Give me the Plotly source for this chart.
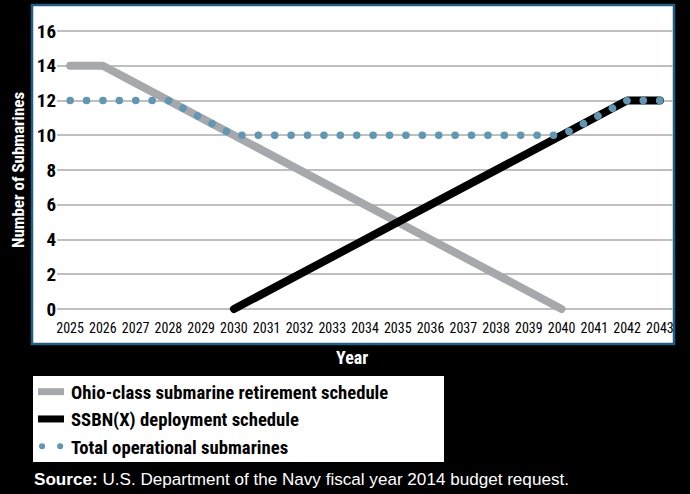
import plotly.graph_objects as go

years = list(range(2025, 2044))
ohio_years = list(range(2025, 2041))
ohio_values = [14, 14, 13, 12, 11, 10, 9, 8, 7, 6, 5, 4, 3, 2, 1, 0]
ssbn_years = list(range(2030, 2044))
ssbn_values = [0, 1, 2, 3, 4, 5, 6, 7, 8, 9, 10, 11, 12, 12]
total_years = years
total_values = [12, 12, 12, 12, 11, 10, 10, 10, 10, 10, 10, 10, 10, 10, 10, 10, 11, 12, 12]
y_ticks = [0, 2, 4, 6, 8, 10, 12, 14, 16]

COND = "Roboto Condensed, Open Sans Condensed, sans-serif"
W, H = 690, 494
L, R, T, B = 57, 17, 14, 176
pw, ph = W - L - R, H - T - B

def px_x(p):
    return (p - L) / pw

def px_y(p):
    return (H - B - p) / ph

fig = go.Figure()
fig.add_trace(go.Scatter(x=ohio_years, y=ohio_values, mode="lines",
                         name="<b>Ohio-class submarine retirement schedule</b>",
                         line=dict(color="#a6a8ab", width=8)))
fig.add_trace(go.Scatter(x=ssbn_years, y=ssbn_values, mode="lines",
                         name="<b>SSBN(X) deployment schedule</b>",
                         line=dict(color="#000000", width=8)))
fig.add_trace(go.Scatter(x=total_years, y=total_values, mode="lines",
                         name="<b>Total operational submarines</b>",
                         line=dict(color="#5f97b5", width=7.5, dash="0.1px,16.3px")))

shapes = [
    dict(type="rect", xref="paper", yref="paper", layer="below",
         x0=px_x(32), x1=px_x(674), y0=px_y(344), y1=px_y(5),
         fillcolor="white", line=dict(color="#1d5f86", width=2.5)),
    dict(type="rect", xref="paper", yref="paper", layer="below",
         x0=px_x(33), x1=px_x(444), y0=px_y(462), y1=px_y(376),
         fillcolor="white", line=dict(width=0)),
]

annotations = [
    dict(text="<b>Number of Submarines</b>", xref="paper", yref="paper",
         x=px_x(18), y=px_y(170), textangle=-90, showarrow=False,
         font=dict(family=COND, size=17, color="white"), xanchor="center", yanchor="middle"),
    dict(text="<b>Year</b>", xref="paper", yref="paper",
         x=px_x(352), y=px_y(357), showarrow=False,
         font=dict(family=COND, size=18, color="white"), xanchor="center", yanchor="middle"),
    dict(text="<b>Source:</b> U.S. Department of the Navy fiscal year 2014 budget request.",
         xref="paper", yref="paper", x=px_x(32), y=px_y(479), showarrow=False,
         font=dict(family="Liberation Sans, Arial, sans-serif", size=17.1, color="white"),
         xanchor="left", yanchor="middle"),
]

fig.update_layout(
    width=W, height=H,
    margin=dict(l=L, r=R, t=T, b=B, autoexpand=False),
    paper_bgcolor="black", plot_bgcolor="white",
    shapes=shapes, annotations=annotations,
    showlegend=True,
    legend=dict(xref="container", yref="container", x=31 / W, y=1 - 373 / H,
                xanchor="left", yanchor="top",
                bgcolor="rgba(0,0,0,0)",
                font=dict(family=COND, size=18.7, color="black"),
                itemwidth=30, tracegroupgap=0),
    xaxis=dict(range=[2024.6, 2043.4], tickvals=years, ticktext=[str(y) for y in years],
               tickangle=0, showgrid=False, zeroline=False, showline=False, ticks="",
               tickfont=dict(family=COND, size=14, color="black")),
    yaxis=dict(range=[-(318 - 309) / 17.375, 16 + (31 - 14) / 17.375], tickvals=y_ticks,
               ticktext=["<b>%d</b>" % v for v in y_ticks],
               showgrid=True, gridcolor="#bfbfbf", gridwidth=1.5, zeroline=False,
               showline=False, ticks="",
               tickfont=dict(family=COND, size=19, color="black")),
)

post = """
document.documentElement.style.margin='0';
document.body.style.margin='0';
document.body.style.padding='0';
document.querySelectorAll('.scatterlayer path.js-line').forEach(function(p){
  p.style.strokeLinecap='round'; p.style.strokeLinejoin='round';
});
document.querySelectorAll('.legend .traces').forEach(function(g, i){
  var p = g.querySelector('path.js-line');
  if (!p) return;
  if (i < 2) { p.setAttribute('d', 'M7,0h26'); p.style.strokeLinecap = 'butt'; p.style.strokeWidth = '7px'; }
  else { p.setAttribute('d', 'M11,0h20'); p.style.strokeLinecap = 'round'; p.style.strokeWidth = '6px';
         p.style.strokeDasharray = '0.1px,18px'; }
});
"""
fig.write_html("out.html", post_script=post, config={"displayModeBar": False})
